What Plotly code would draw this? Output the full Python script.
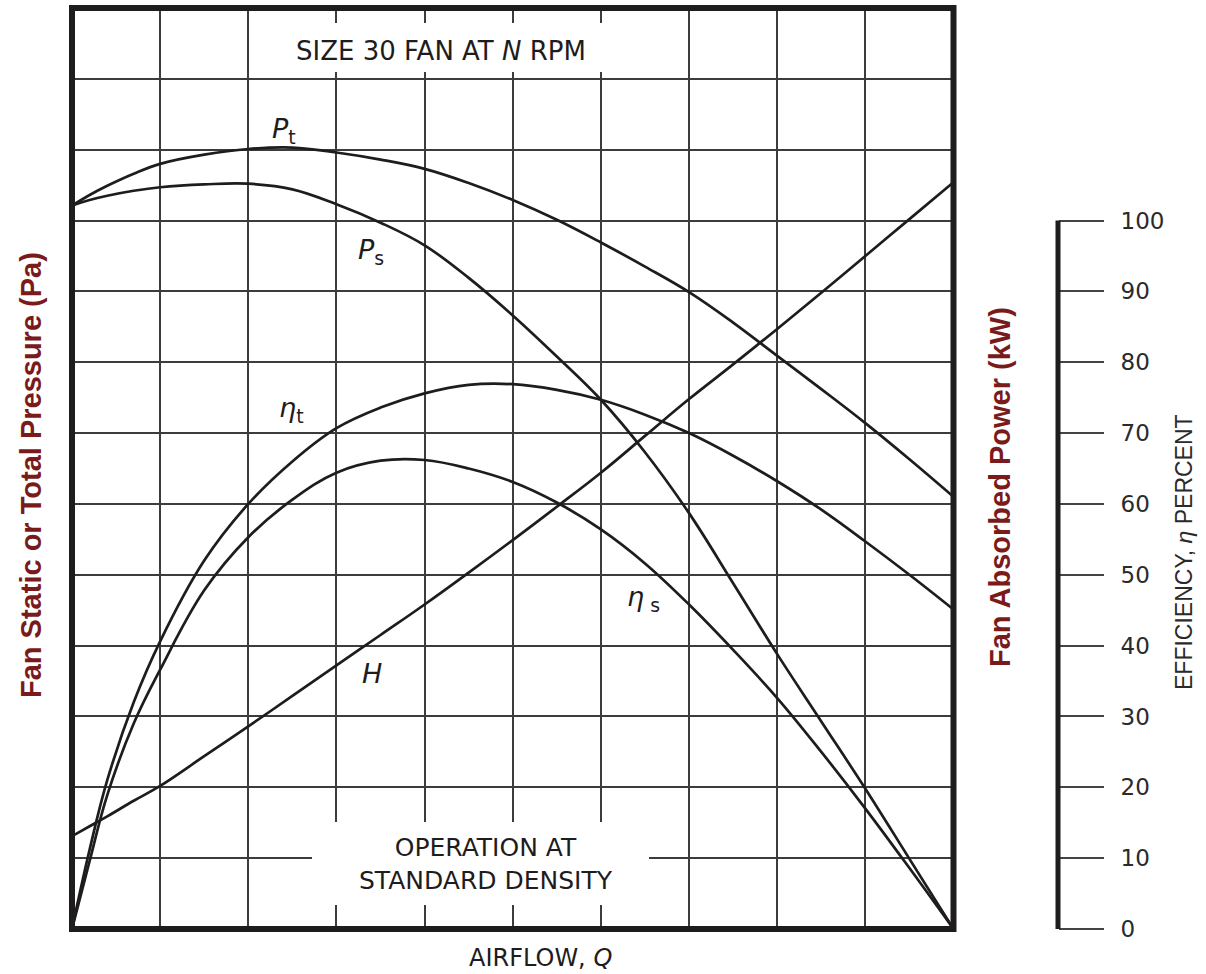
import plotly.graph_objects as go

# Airflow sample points (grid units, 0..10) shared by all curves
airflow = [0, 0.2, 0.4, 0.7, 1, 1.5, 2, 2.5, 3, 3.5, 4, 4.5, 5, 5.5, 6, 6.5, 7, 7.5, 8, 8.5, 9, 9.5, 10]

# Total pressure Pt and static pressure Ps
p_total = [102.1, 103.6, 104.9, 106.6, 108.0, 109.3, 110.1, 110.3, 109.6, 108.6, 107.3, 105.3, 102.9,
           100.1, 96.9, 93.5, 89.9, 85.6, 80.9, 76.2, 71.4, 66.3, 61.0]
p_static = [102.1, 102.9, 103.5, 104.2, 104.7, 105.1, 105.2, 104.4, 102.3, 99.7, 96.5, 91.9, 86.6,
            80.8, 74.7, 67.3, 58.7, 48.8, 38.8, 29.3, 19.8, 9.9, 0.0]

# Total efficiency and static efficiency (percent)
eff_total = [0, 11.2, 21.0, 32.0, 40.6, 52.0, 60.0, 66.0, 70.7, 73.6, 75.6, 76.8, 76.9,
             76.1, 74.7, 72.6, 70.0, 66.8, 63.2, 59.2, 54.7, 50.0, 45.1]
eff_static = [0, 9.6, 18.9, 29.0, 36.6, 47.8, 55.3, 60.6, 64.4, 66.1, 66.2, 65.0, 63.1,
              60.2, 56.4, 51.6, 45.8, 39.4, 32.6, 25.0, 17.0, 8.6, 0.0]

# Absorbed power H
power = [13.1, 14.5, 15.9, 18.1, 20.2, 24.4, 28.6, 32.9, 37.2, 41.5, 45.8, 50.3, 54.9,
         59.6, 64.4, 69.6, 74.8, 79.7, 84.7, 89.8, 95.0, 100.2, 105.4]

eff_ticks = list(range(0, 101, 10))

curve_labels = [
    ("<i>P</i><sub>t</sub>", 2.25, 112.7),
    ("<i>P</i><sub>s</sub>", 3.22, 95.7),
    ("<i>η</i><sub>t</sub>", 2.33, 73.3),
    ("<i>η</i><sub> s</sub>", 6.27, 46.7),
    ("<i>H</i>", 3.27, 36.0),
]

# Page geometry (pixels)
W, H = 1206, 974
L, T = 72, 8
PAPER_R = 1110
PLOT_R = 953.5
BOTTOM = 929
pw = PAPER_R - L
ph = BOTTOM - T


def px(xp):
    return (xp - L) / pw


def py(yp):
    return (BOTTOM - yp) / ph


INK = "#1f1c1d"
GRID = "#3c3c3c"
RED = "#7a1b1b"
FONT = "DejaVu Sans"

fig = go.Figure()

line_style = dict(color=INK, width=2.7, shape="spline", smoothing=1.1)
for name, vals in [("Pt", p_total), ("Ps", p_static), ("ηt", eff_total),
                   ("ηs", eff_static), ("H", power)]:
    fig.add_trace(go.Scatter(x=airflow, y=vals, mode="lines", name=name,
                             line=line_style, showlegend=False, hoverinfo="skip"))

# carrier trace for the efficiency scale
fig.add_trace(go.Scatter(x=[0], y=[0], yaxis="y2", mode="markers",
                         marker=dict(opacity=0), showlegend=False, hoverinfo="skip"))

shapes = [
    # white gaps in the grid behind the two notes
    dict(type="rect", xref="paper", yref="paper", x0=px(268), x1=px(610), y0=py(72), y1=py(23),
         fillcolor="white", line=dict(width=0), layer="above"),
    dict(type="rect", xref="paper", yref="paper", x0=px(312), x1=px(649), y0=py(905), y1=py(822),
         fillcolor="white", line=dict(width=0), layer="above"),
    # heavy frame
    dict(type="rect", xref="paper", yref="paper", x0=0, x1=px(PLOT_R), y0=0, y1=1,
         line=dict(color=INK, width=6), layer="above"),
    # efficiency scale spine
    dict(type="line", xref="paper", yref="y", x0=px(1058), x1=px(1058), y0=0, y1=100,
         line=dict(color=INK, width=5)),
]


def note(text, xp, yp, size, **extra):
    d = dict(text=text, x=px(xp), y=py(yp), xref="paper", yref="paper",
             xanchor="center", yanchor="middle", showarrow=False,
             font=dict(family=FONT, size=size, color=INK))
    d.update(extra)
    return d


annotations = [
    note("SIZE 30 FAN AT <i>N</i> RPM", 441, 51, 26),
    note("OPERATION AT<br>STANDARD DENSITY", 486, 864, 25),
    note("AIRFLOW, <i>Q</i>", 540, 958, 24),
    note("<b>Fan Static or Total Pressure (Pa)</b>", 31, 475, 29, textangle=-90,
         font=dict(family="Liberation Sans", size=29, color=RED)),
    note("<b>Fan Absorbed Power (kW)</b>", 1000, 487, 29, textangle=-90,
         font=dict(family="Liberation Sans", size=29, color=RED)),
    note("EFFICIENCY, <i>η</i> PERCENT", 1184, 552, 23, textangle=-90,
         font=dict(family="Liberation Sans", size=23, color="#2a2a2a")),
]
for txt, xv, yv in curve_labels:
    annotations.append(dict(text=txt, x=xv, y=yv, xref="x", yref="y", xanchor="left",
                            yanchor="middle", showarrow=False,
                            font=dict(family=FONT, size=27, color=INK)))

fig.update_layout(
    width=W, height=H, autosize=False,
    margin=dict(l=L, r=W - PAPER_R, t=T, b=H - BOTTOM, pad=0),
    paper_bgcolor="white", plot_bgcolor="white",
    xaxis=dict(domain=[0, px(PLOT_R)], range=[0, 10], dtick=1, showgrid=True,
               gridcolor=GRID, gridwidth=2, showticklabels=False, ticks="",
               zeroline=False, showline=False, fixedrange=True),
    yaxis=dict(domain=[0, 1], range=[0, 130], dtick=10, showgrid=True,
               gridcolor=GRID, gridwidth=2, showticklabels=False, ticks="",
               zeroline=False, showline=False, fixedrange=True),
    yaxis2=dict(overlaying="y", anchor="free", position=px(1058), side="right",
                range=[0, 130], tickvals=eff_ticks, ticktext=[str(v) for v in eff_ticks],
                ticks="outside", ticklen=45, tickwidth=2, tickcolor="#444",
                ticklabelstandoff=12, showgrid=False, zeroline=False, showline=False,
                tickfont=dict(family=FONT, size=23, color="#2a2a2a"), fixedrange=True),
    shapes=shapes,
    annotations=annotations,
)

fig.write_html("out.html")
